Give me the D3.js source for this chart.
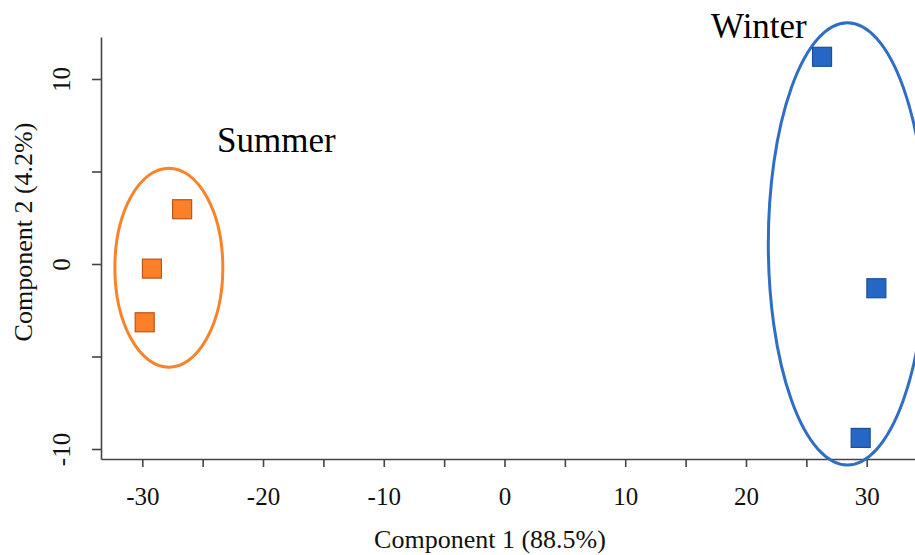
<!DOCTYPE html>
<html lang="en">
<head>
<meta charset="utf-8">
<title>PCA scores</title>
<script src="https://d3js.org/d3.v7.min.js"></script>
<style>
body {
  margin: 0;
  background: #fff;
  font-family: "Liberation Serif", "DejaVu Serif", serif;
}
.axis path, .axis line {
  stroke: #444;
  stroke-width: 1.6px;
}
.axis text {
  font-family: "Liberation Serif", serif;
  font-size: 25px;
  fill: #111;
}
.axis-title {
  font-size: 26px;
  fill: #111;
}
.group-label {
  font-size: 35px;
  fill: #000;
}
</style>
</head>
<body>
<svg width="915" height="555"></svg>
<script>

// scores
var summerX = [-26.7, -29.2, -29.8];
var summerY = [2.96, -0.25, -3.15];
var winterX = [26.3, 30.8, 29.5];
var winterY = [11.2, -1.31, -9.4];

// group ellipses: centre and radii, in data units
var groupNames = ["Summer", "Winter"];
var ellipseCx = [-27.8, 28.4];
var ellipseCy = [-0.2, 1.09];
var ellipseRx = [4.47, 6.55];
var ellipseRy = [5.38, 11.95];

var xTicks = [-30, -25, -20, -15, -10, -5, 0, 5, 10, 15, 20, 25, 30];
var yTicks = [-10, -5, 0, 5, 10];

var svg = d3.select("svg");

var x = d3.scaleLinear().domain([-33.42, 34.0]).range([101, 915]);
var y = d3.scaleLinear().domain([-10.54, 12.27]).range([459, 37]);

var colors = {
  Summer: { fill: "#fb8028", stroke: "#b9561a", ring: "#f7842b" },
  Winter: { fill: "#2467c4", stroke: "#1b4f9a", ring: "#2f6ec4" }
};

var fmt = function(d) { return d % 10 === 0 ? d : ""; };

// x axis
svg.append("g")
    .attr("class", "axis")
    .attr("transform", "translate(0," + y.range()[0] + ")")
    .call(d3.axisBottom(x).tickValues(xTicks).tickFormat(fmt).tickSizeInner(8).tickSizeOuter(0).tickPadding(20));

// y axis, labels turned on their side
var yAxis = svg.append("g")
    .attr("class", "axis")
    .attr("transform", "translate(" + x.range()[0] + ",0)")
    .call(d3.axisLeft(y).tickValues(yTicks).tickFormat(fmt).tickSizeInner(9).tickSizeOuter(0));

yAxis.selectAll(".tick text")
    .attr("x", null)
    .attr("dy", null)
    .attr("transform", "translate(-31,0) rotate(-90)")
    .style("text-anchor", "middle");

// axis titles
svg.append("text")
    .attr("class", "axis-title")
    .attr("x", 490)
    .attr("y", 548)
    .attr("text-anchor", "middle")
    .text("Component 1 (88.5%)");

svg.append("text")
    .attr("class", "axis-title")
    .attr("transform", "translate(32,232) rotate(-90)")
    .attr("text-anchor", "middle")
    .text("Component 2 (4.2%)");

// ellipses around the groups
var k = x(1) - x(0), ky = y(0) - y(1);
groupNames.forEach(function(name, i) {
  svg.append("ellipse")
      .attr("cx", x(ellipseCx[i]))
      .attr("cy", y(ellipseCy[i]))
      .attr("rx", ellipseRx[i] * k)
      .attr("ry", ellipseRy[i] * ky)
      .style("fill", "none")
      .style("stroke", colors[name].ring)
      .style("stroke-width", 3);
});

// points
var pts = summerX.map(function(v, i) { return { g: "Summer", x: v, y: summerY[i] }; })
  .concat(winterX.map(function(v, i) { return { g: "Winter", x: v, y: winterY[i] }; }));

var side = 19;
svg.append("g").selectAll("rect")
  .data(pts)
  .enter().append("rect")
    .attr("x", function(d) { return x(d.x) - side / 2; })
    .attr("y", function(d) { return y(d.y) - side / 2; })
    .attr("width", side)
    .attr("height", side)
    .style("fill", function(d) { return colors[d.g].fill; })
    .style("stroke", function(d) { return colors[d.g].stroke; })
    .style("stroke-width", 1.2);

// group labels
svg.append("text")
    .attr("class", "group-label")
    .attr("x", 217)
    .attr("y", 152)
    .text("Summer");

svg.append("text")
    .attr("class", "group-label")
    .attr("x", 711)
    .attr("y", 38)
    .text("Winter");

</script>
</body>
</html>
